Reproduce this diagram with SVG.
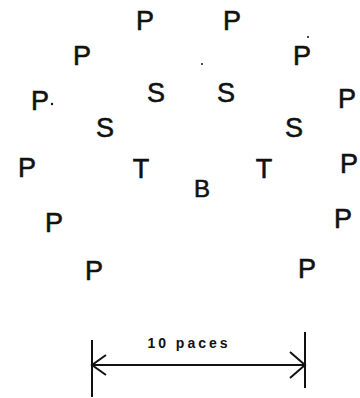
<svg xmlns="http://www.w3.org/2000/svg" width="360" height="398" viewBox="0 0 360 398">
<style>
.l{font-family:"Liberation Sans",Arial,sans-serif;font-size:27px;fill:#111;stroke:#111;stroke-width:0.6;text-anchor:middle}
.d{font-family:"Liberation Sans",Arial,sans-serif;font-size:14px;fill:#111;text-anchor:middle;font-weight:bold;letter-spacing:3px}
.ln{stroke:#111;stroke-width:2;fill:none}
</style>
<rect width="360" height="398" fill="#fff"/>
<g id="p1"><text class="l" x="145" y="30">P</text></g>
<g id="p2"><text class="l" x="232" y="30">P</text></g>
<g id="p3"><text class="l" x="82" y="65">P</text></g>
<g id="p4"><text class="l" x="302" y="65">P</text></g>
<g id="p5"><text class="l" x="40" y="110">P</text><circle cx="52" cy="104" r="1.2" fill="#111"/></g>
<g id="s1"><text class="l" x="156" y="102">S</text></g>
<g id="s2"><text class="l" x="226" y="102">S</text></g>
<g id="p6"><text class="l" x="347" y="108">P</text></g>
<g id="s3"><text class="l" x="105" y="137">S</text></g>
<g id="s4"><text class="l" x="294" y="137">S</text></g>
<g id="p7"><text class="l" x="27" y="177">P</text></g>
<g id="t1"><text class="l" x="141" y="178">T</text></g>
<g id="t2"><text class="l" x="264" y="178">T</text></g>
<g id="p8"><text class="l" x="349" y="173">P</text></g>
<g id="b"><text class="l" x="202" y="197" style="font-size:24px">B</text></g>
<g id="p9"><text class="l" x="54" y="232">P</text></g>
<g id="p10"><text class="l" x="343" y="228">P</text></g>
<g id="p11"><text class="l" x="94" y="280">P</text></g>
<g id="p12"><text class="l" x="307" y="278">P</text></g>
<circle cx="202" cy="64" r="1" fill="#111"/>
<circle cx="308" cy="37" r="1" fill="#111"/>
<g id="connectors">
<line class="ln" x1="92" y1="340" x2="92" y2="397"/>
<line class="ln" x1="305" y1="332" x2="305" y2="388"/>
<line class="ln" x1="92" y1="365" x2="305" y2="365"/>
<polyline class="ln" points="106,355 92,365 106,375"/>
<polyline class="ln" points="290,352 305,365 290,378"/>
</g>
<g id="label"><text class="d" x="189" y="348">10 paces</text></g>
</svg>
